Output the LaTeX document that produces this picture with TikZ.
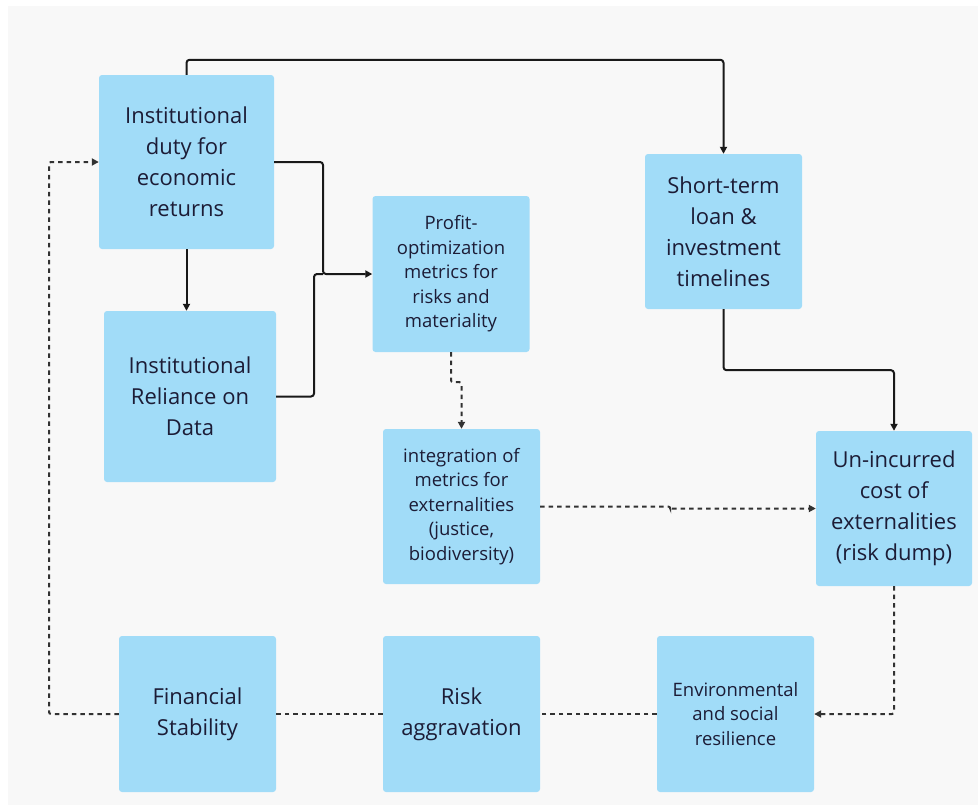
\documentclass[tikz,border=0pt]{standalone}
\usepackage{fontspec}
\setmainfont{Open Sans}
\usetikzlibrary{arrows.meta}
\definecolor{boxblue}{RGB}{161,220,248}
\definecolor{inktext}{RGB}{28,28,54}
\definecolor{canvas}{RGB}{248,248,248}
\definecolor{solidline}{RGB}{25,25,25}
\definecolor{dashline}{RGB}{50,50,50}
\tikzset{
  card/.style={fill=boxblue, rounded corners=3pt, draw=none,
    minimum width=157pt, minimum height=156pt, align=center,
    text=inktext, inner sep=0pt},
  bigtxt/.style={font=\fontsize{22}{31}\selectfont},
  smalltxt/.style={font=\fontsize{18.5}{24.5}\selectfont},
  flow/.style={draw=solidline, line width=2pt, rounded corners=3pt,
    -{Triangle[length=7pt,width=7pt]}},
  plainflow/.style={draw=solidline, line width=2pt, rounded corners=3pt},
  loop/.style={draw=dashline, line width=2pt, rounded corners=2pt,
    dash pattern=on 4.5pt off 4pt},
  looparrow/.style={loop, -{Triangle[length=7pt,width=7pt]}}
}
\begin{document}
\begin{tikzpicture}[x=1pt,y=-1pt]
  % canvas
  \fill[white] (0,0) rectangle (978,806);
  \fill[canvas] (8,6) rectangle (978,805);
  \useasboundingbox (0,0) rectangle (978,806);

  % cards
  \node[card,bigtxt,minimum width=175pt,minimum height=174pt] (duty) at (186.5,162)
    {Institutional\\duty for\\economic\\returns};
  \node[card,bigtxt,minimum width=172pt,minimum height=171pt] (reliance) at (190,396.5)
    {Institutional\\Reliance on\\Data};
  \node[card,smalltxt] (profit) at (451,274)
    {Profit-\\optimization\\metrics for\\risks and\\materiality};
  \node[card,bigtxt,minimum height=155pt] (short) at (723.5,231.5)
    {Short-term\\loan \&\\investment\\timelines};
  \node[card,smalltxt,minimum height=155pt] (integ) at (461.5,506.5)
    {integration of\\metrics for\\externalities\\(justice,\\biodiversity)};
  \node[card,bigtxt,minimum width=156pt,minimum height=155pt] (uninc) at (894,508.5)
    {Un-incurred\\cost of\\externalities\\(risk dump)};
  \node[card,bigtxt] (fin) at (197.5,714)
    {Financial\\Stability};
  \node[card,bigtxt] (risk) at (461.5,714)
    {Risk\\aggravation};
  \node[card,smalltxt] (env) at (735.5,714)
    {Environmental\\and social\\resilience};

  % junction points of the merging connectors
  \coordinate (merge) at (323,274);
  \coordinate (bend) at (314,274);
  \coordinate (back) at (49,714);

  % solid connectors
  \draw[flow] (duty.north) -- ++(0,-15) -| (short.north);
  \draw[flow] (duty.east) -| (merge) -- (profit.west);
  \draw[plainflow] (reliance.east) -| (bend) -- (merge);
  \draw[flow] (duty.south) -- (duty.south |- reliance.north);
  \draw[flow] (short.south) -- ++(0,61) -| (uninc.north);

  % dashed feedback connectors
  \draw[looparrow] (profit.south) -- ++(0,30) -| (integ.north);
  \draw[looparrow] (integ.east) -- ++(130,0) |- (uninc.west);
  \draw[looparrow] (uninc.south) |- (env.east);
  \draw[loop] (env.west) -- (risk.east);
  \draw[loop] (risk.west) -- (fin.east);
  \draw[looparrow] (fin.west) -- (back) |- (duty.west);
\end{tikzpicture}
\end{document}
